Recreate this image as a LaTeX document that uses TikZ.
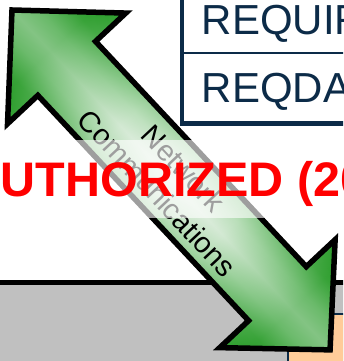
\documentclass[tikz,border=0pt]{standalone}
\usepackage{fontspec}
\setmainfont{Liberation Sans}
\definecolor{navy}{HTML}{0C2B48}
\definecolor{peach}{HTML}{FFCC99}
\definecolor{panelgray}{HTML}{C0C0C0}
\definecolor{agreen}{RGB}{28,150,28}
\definecolor{alight}{RGB}{236,243,236}
\definecolor{wred}{HTML}{FF0000}
% shading across the arrow: dark rims, soft pale centre line
\pgfdeclareverticalshading{arrowperp}{100bp}{color(0bp)=(agreen); color(25bp)=(agreen); color(36bp)=(agreen!75!white); color(44bp)=(agreen!30!white); color(50bp)=(alight); color(56bp)=(agreen!30!white); color(64bp)=(agreen!75!white); color(75bp)=(agreen); color(100bp)=(agreen)}
% shading along the arrow: dark heads, pale middle
\pgfdeclarehorizontalshading{arrowalong}{100bp}{color(0bp)=(agreen); color(25bp)=(agreen); color(31bp)=(agreen); color(42bp)=(agreen!30!white); color(50bp)=(alight); color(58bp)=(agreen!30!white); color(69bp)=(agreen); color(75bp)=(agreen); color(100bp)=(agreen)}
\tikzset{
  tabletext/.style={anchor=base west, inner sep=0pt, text=navy, font=\fontsize{42}{48}\selectfont},
  arrowlabel/.style={inner sep=0pt, align=center, font=\fontsize{29}{36}\selectfont},
  watermark/.style={anchor=base west, inner sep=0pt, text=wred, font=\bfseries\fontsize{48.5}{58}\selectfont}
}
\def\arrowoutline{(0,0) -- (80,81) -- (80,39.5) -- (388.5,39.5) -- (388.5,79) -- (465.5,0) -- (388.5,-79) -- (388.5,-39.5) -- (80,-39.5) -- (80,-81) -- cycle}
\begin{document}
\begin{tikzpicture}[x=1pt,y=1pt]
\useasboundingbox (0,0) rectangle (343,361);
\fill[white] (0,0) rectangle (343,361);
\clip (0,0) rectangle (343,361);

% lower grey panel with the peach box
\fill[panelgray] (-5,-5) rectangle (348,78);
\draw[navy, line width=1.2, fill=peach] (288,-5) rectangle (350,47);
\draw[black, line width=5] (-5,78) -- (348,78);

% table in the upper right
\fill[white] (182,237.5) rectangle (350,366);
\draw[navy, line width=1.3] (182,308) -- (350,308);
\draw[navy, line width=4.5, line join=miter] (182,366) -- (182,237.5) -- (350,237.5);
\node[tabletext] (reqa) at (201.5,326.7) {REQUIR};
\node[tabletext] (reqb) at (201.5,258) {REQDA};

% double-headed arrow
\begin{scope}[transform canvas={shift={(12,351)},rotate=-46.9}]
  \path[shading=arrowperp] \arrowoutline;
  \path[shading=arrowalong, fill opacity=0.5] \arrowoutline;
  \draw[black, line width=5.5, line join=miter] \arrowoutline;
  \node[arrowlabel] (netcomm) at (233,-1) {Network\\Communications};
\end{scope}

% translucent band behind the red notice
\fill[white, fill opacity=0.62] (-5,143) rectangle (348,221);
\node[watermark] (notice) at (-34.5,164.5) {AUTHORIZED (20};
\end{tikzpicture}
\end{document}
